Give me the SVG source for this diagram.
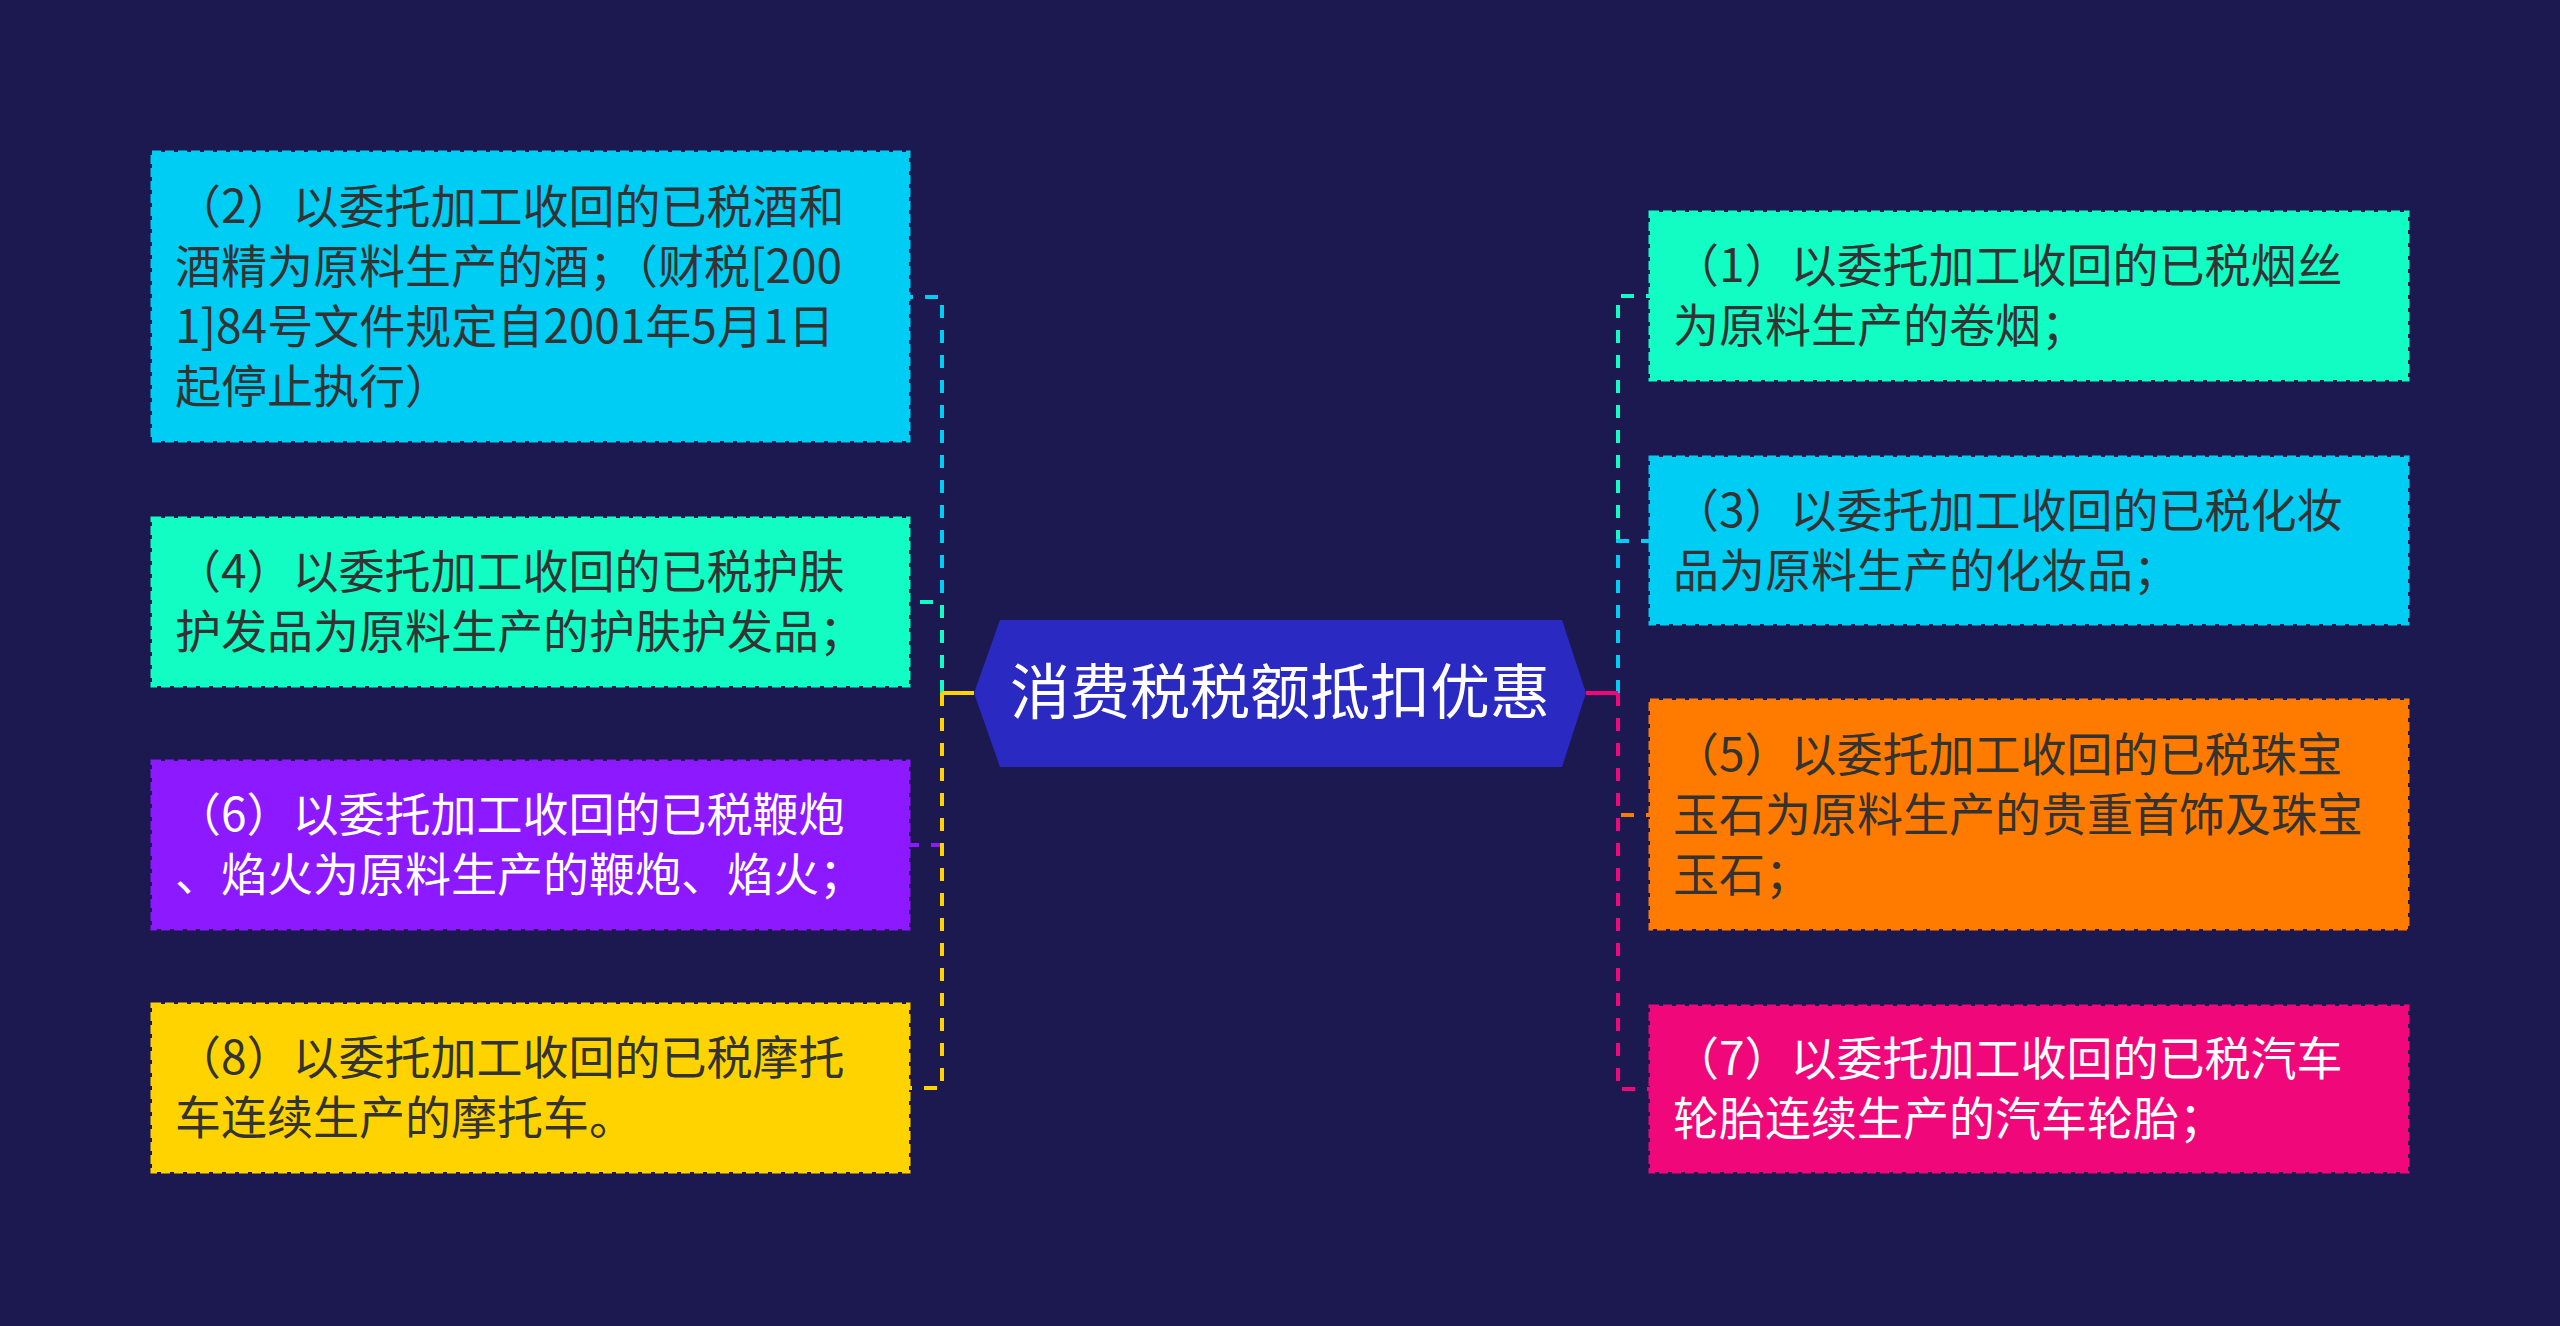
<svg xmlns="http://www.w3.org/2000/svg" width="2560" height="1326" viewBox="0 0 2560 1326">
<style>
.box{stroke-width:3;stroke-dasharray:9,4}
.t{font-family:"Noto Sans CJK SC","Noto Sans",sans-serif;font-size:46px}
.dk{fill:#333333}
.wt{fill:#ffffff}
.ln{fill:none;stroke-width:4;stroke-dasharray:13,12}
.sl{fill:none;stroke-width:4}
</style>
<rect x="0" y="0" width="2560" height="1326" fill="#1b1950"/>
<g id="connectors">
<path class="ln" stroke="#00cdf4" d="M942 693 V297 H909"/>
<path class="ln" stroke="#12fdc4" d="M942 693 V602 H909"/>
<path class="ln" stroke="#8c19ff" d="M942 693 V845 H909"/>
<path class="ln" stroke="#ffd300" d="M942 693 V1088 H909"/>
<path class="sl" stroke="#ffd300" d="M974 693 H942"/>
<path class="ln" stroke="#12fdc4" d="M1618 693 V296 H1650"/>
<path class="ln" stroke="#00cdf4" d="M1618 693 V541 H1650"/>
<path class="ln" stroke="#ff7b00" d="M1618 693 V815 H1650"/>
<path class="ln" stroke="#f0077a" d="M1618 693 V1089 H1650"/>
<path class="sl" stroke="#f0077a" d="M1586 693 H1618"/>
</g>
<g id="center">
<polygon points="974,693 1000,620 1562,620 1586,693 1562,767 1000,767" fill="#2a2ac2"/>
<text x="1280" y="714" text-anchor="middle" font-family="Noto Sans CJK SC, Noto Sans, sans-serif" font-size="60" fill="#ffffff">消费税税额抵扣优惠</text>
</g>
<g id="n2">
<rect class="box" x="152" y="152" width="757" height="289" fill="#00cdf4" stroke="#00cdf4"/>
<text class="t dk"><tspan x="175" y="223">（2）以委托加工收回的已税酒和</tspan><tspan x="175" y="283">酒精为原料生产的酒；（财税[200</tspan><tspan x="175" y="343">1]84号文件规定自2001年5月1日</tspan><tspan x="175" y="403">起停止执行）</tspan></text>
</g>
<g id="n4">
<rect class="box" x="152" y="518" width="757" height="168" fill="#12fdc4" stroke="#12fdc4"/>
<text class="t dk"><tspan x="175" y="588">（4）以委托加工收回的已税护肤</tspan><tspan x="175" y="648">护发品为原料生产的护肤护发品；</tspan></text>
</g>
<g id="n6">
<rect class="box" x="152" y="761" width="757" height="168" fill="#8c19ff" stroke="#8c19ff"/>
<text class="t wt"><tspan x="175" y="831">（6）以委托加工收回的已税鞭炮</tspan><tspan x="175" y="891">、焰火为原料生产的鞭炮、焰火；</tspan></text>
</g>
<g id="n8">
<rect class="box" x="152" y="1004" width="757" height="168" fill="#ffd300" stroke="#ffd300"/>
<text class="t dk"><tspan x="175" y="1074">（8）以委托加工收回的已税摩托</tspan><tspan x="175" y="1134">车连续生产的摩托车。</tspan></text>
</g>
<g id="n1">
<rect class="box" x="1650" y="212" width="758" height="168" fill="#12fdc4" stroke="#12fdc4"/>
<text class="t dk"><tspan x="1673" y="282">（1）以委托加工收回的已税烟丝</tspan><tspan x="1673" y="342">为原料生产的卷烟；</tspan></text>
</g>
<g id="n3">
<rect class="box" x="1650" y="457" width="758" height="167" fill="#00cdf4" stroke="#00cdf4"/>
<text class="t dk"><tspan x="1673" y="527">（3）以委托加工收回的已税化妆</tspan><tspan x="1673" y="587">品为原料生产的化妆品；</tspan></text>
</g>
<g id="n5">
<rect class="box" x="1650" y="700" width="758" height="229" fill="#ff7b00" stroke="#ff7b00"/>
<text class="t dk"><tspan x="1673" y="771">（5）以委托加工收回的已税珠宝</tspan><tspan x="1673" y="831">玉石为原料生产的贵重首饰及珠宝</tspan><tspan x="1673" y="891">玉石；</tspan></text>
</g>
<g id="n7">
<rect class="box" x="1650" y="1006" width="758" height="166" fill="#f0077a" stroke="#f0077a"/>
<text class="t wt"><tspan x="1673" y="1075">（7）以委托加工收回的已税汽车</tspan><tspan x="1673" y="1135">轮胎连续生产的汽车轮胎；</tspan></text>
</g>
</svg>
